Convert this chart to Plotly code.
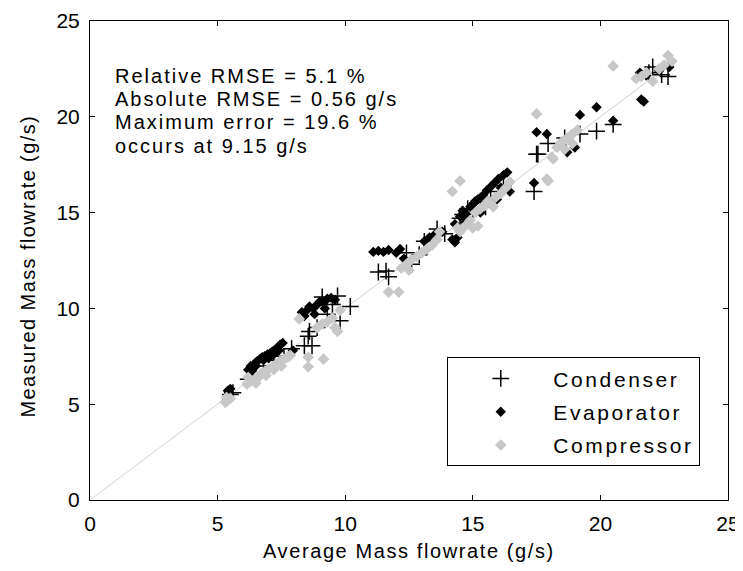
import plotly.graph_objects as go

# ---- data ----
cond_x = [5.5, 5.6, 6.2, 6.4, 6.8, 7.2, 7.6, 7.9, 8.4, 8.7, 8.55, 8.6, 8.9, 9.1, 9.7, 10.2, 9.8, 9.3, 9.5,
          11.3, 11.6, 11.7, 12.6, 12.4, 12.9, 13.1, 13.6, 13.9, 14.5, 14.6, 14.8, 15.0, 15.3, 15.5, 15.7, 16.2,
          17.4, 17.5, 17.55, 17.95, 18.6, 19.2, 19.85, 20.5, 21.9, 22.05, 22.4, 22.65]
cond_y = [5.5, 5.6, 6.3, 6.5, 7.0, 7.3, 7.5, 7.9, 8.05, 8.05, 8.55, 8.8, 9.0, 10.6, 10.65, 10.1, 9.35, 9.7, 10.2,
          11.9, 11.95, 11.65, 12.3, 12.9, 12.8, 13.5, 14.15, 13.9, 14.7, 14.9, 15.2, 15.0, 15.6, 15.3, 16.1, 16.4,
          16.1, 18.05, 18.05, 18.6, 18.9, 19.1, 19.25, 19.6, 22.3, 22.6, 22.2, 22.1]

evap_x = [5.4, 5.5, 5.45,
          6.2, 6.3, 6.35, 6.45, 6.5, 6.55, 6.65, 6.75, 6.8, 6.85, 6.95, 7.0, 7.05, 7.15, 7.2, 7.25, 7.35, 7.4,
          7.45, 7.55, 7.95,
          8.3, 8.4, 8.5, 8.6, 8.75, 8.8, 8.9, 9.0, 9.15, 9.2, 9.3, 9.45, 9.6,
          11.1, 11.3, 11.5, 11.7, 12.0, 12.15, 12.3, 13.1, 13.3, 13.5, 13.8, 14.2, 14.3, 14.4,
          14.3, 14.5, 14.6, 14.75, 14.9, 15.05, 15.2, 15.3, 15.4, 15.55, 15.7, 15.85, 15.95, 16.0, 16.2, 16.35, 16.45,
          14.7, 15.1, 15.6, 16.1,
          17.4, 17.5, 17.9, 18.5, 18.7, 19.0, 19.2, 19.85, 20.5,
          21.6, 21.7, 21.55, 21.8, 22.3, 22.7]
evap_y = [5.7, 5.8, 5.6,
          6.8, 7.0, 6.75, 7.1, 7.0, 7.25, 7.35, 7.45, 7.3, 7.5, 7.6, 7.4, 7.65, 7.75, 7.6, 7.85, 7.95, 7.8,
          8.1, 8.2, 7.8,
          9.8, 9.6, 9.9, 10.1, 10.0, 9.7, 10.2, 10.35, 10.3, 10.0, 10.5, 10.55, 10.45,
          12.95, 13.0, 12.95, 13.05, 12.9, 13.1, 12.6, 13.5, 13.7, 13.85, 14.0, 13.6, 13.45, 13.7,
          14.4, 14.8, 15.1, 14.9, 15.3, 15.5, 15.7, 15.0, 15.9, 16.15, 16.35, 16.55, 15.7, 16.75, 16.95, 17.1, 16.1,
          14.5, 15.6, 15.5, 16.3,
          16.55, 19.2, 19.1, 18.5, 18.15, 18.4, 20.1, 20.5, 19.8,
          20.9, 20.8, 22.3, 22.15, 22.4, 22.6]

comp_x = [5.3, 5.35, 5.4, 5.5,
          6.15, 6.2, 6.3, 6.45, 6.5, 6.6, 6.7, 6.85, 6.9, 7.0, 7.15, 7.2, 7.3, 7.45, 7.5, 7.6, 7.75, 7.85,
          8.2, 8.55, 8.55, 9.15, 9.7, 8.9, 9.1, 9.3, 9.5, 9.6, 9.8,
          11.7, 12.1, 12.2, 12.4, 12.5, 12.6, 12.8, 13.0, 13.2, 13.4, 13.6, 13.7,
          14.2, 14.5, 14.4, 14.5, 14.7, 14.9, 15.0, 15.2, 15.1, 15.3, 15.5, 15.6, 15.8, 15.9, 16.1, 16.3, 16.45,
          17.5, 17.9, 17.95, 18.15, 18.1, 18.3, 18.5, 18.6, 18.7, 18.9, 18.9, 19.1,
          20.5, 21.4, 21.6, 21.8, 22.05, 22.3, 22.5, 22.65, 22.8]
comp_y = [5.1, 5.35, 5.2, 5.3,
          6.05, 6.4, 6.2, 6.3, 6.1, 6.4, 6.6, 6.7, 6.5, 6.85, 6.95, 6.8, 7.1, 7.25, 7.0, 7.35, 7.45, 7.55,
          9.45, 7.45, 6.95, 7.35, 8.8, 9.0, 9.2, 9.3, 9.5, 9.0, 9.9,
          10.85, 10.85, 12.1, 12.3, 12.0, 12.55, 12.7, 12.9, 13.1, 13.3, 13.6, 14.0,
          16.1, 16.65, 14.2, 14.0, 14.3, 14.6, 14.2, 14.3, 15.0, 15.2, 15.4, 15.6, 15.3, 15.8, 16.0, 16.3, 16.6,
          20.15, 16.75, 16.65, 17.8, 17.9, 18.4, 18.7, 18.3, 18.9, 19.1, 18.6, 19.3,
          22.65, 22.0, 22.1, 22.3, 21.85, 22.5, 22.7, 23.2, 22.9]

ref_line = [0, 23]
x_ticks = [0, 5, 10, 15, 20, 25]
y_ticks = [0, 5, 10, 15, 20, 25]
stats_text = ["Relative RMSE = 5.1 %", "Absolute RMSE = 0.56 g/s",
              "Maximum error = 19.6 %", "occurs at 9.15 g/s"]
series_names = ["Condenser", "Evaporator", "Compressor"]
x_title = "Average Mass flowrate (g/s)"
y_title = "Measured Mass flowrate (g/s)"

FONT = "Liberation Sans, Arial, sans-serif"
TXT = 20


def spaced(s, px=2.0):
    # the reference font is wide with loose letter spacing
    return '<span style="letter-spacing:%.1fpx">%s</span>' % (px, s)


# the page body has an 8px margin, so the figure is sized and offset to compensate
fig = go.Figure()
fig.add_trace(go.Scatter(x=ref_line, y=ref_line, mode="lines",
                         line=dict(color="rgb(212,208,200)", width=1), showlegend=False, hoverinfo="skip"))
fig.add_trace(go.Scatter(x=cond_x, y=cond_y, mode="markers", name=spaced(series_names[0], 2.6), legendgroup="a",
                         marker=dict(symbol="cross-thin-open", size=12, color="black",
                                     line=dict(color="black", width=1.5))))
fig.add_trace(go.Scatter(x=evap_x, y=evap_y, mode="markers", name=spaced(series_names[1], 2.6), legendgroup="b",
                         marker=dict(symbol="diamond", size=8, color="black", line=dict(width=0))))
fig.add_trace(go.Scatter(x=comp_x, y=comp_y, mode="markers", name=spaced(series_names[2], 2.6), legendgroup="c",
                         marker=dict(symbol="diamond", size=9, color="rgb(200,200,200)", line=dict(width=0))))

for i, t in enumerate(stats_text):
    fig.add_annotation(x=0.9, y=22.15 - i * 1.22, xref="x", yref="y", text=spaced(t, 2.0), showarrow=False,
                       xanchor="left", yanchor="middle", font=dict(size=TXT, color="black", family=FONT))

fig.add_annotation(x=0.5, y=0, xref="paper", yref="paper", yshift=-38, text=spaced(x_title, 1.6), showarrow=False,
                   xanchor="center", yanchor="top", font=dict(size=TXT, color="black", family=FONT))
fig.add_annotation(x=0, y=0.5, xref="paper", yref="paper", xshift=-63, yshift=-6, text=spaced(y_title, 1.4),
                   showarrow=False, textangle=-90, xanchor="center", yanchor="middle",
                   font=dict(size=TXT, color="black", family=FONT))

axis_common = dict(showline=True, linecolor="black", linewidth=1, mirror="ticks", ticks="inside",
                   ticklen=5, tickcolor="black", showgrid=False, zeroline=False, automargin=False,
                   tickfont=dict(size=21, color="black", family=FONT), range=[0, 25])
fig.update_xaxes(**axis_common, tickvals=x_ticks, ticklabelstandoff=5)
fig.update_yaxes(**axis_common, tickvals=y_ticks, ticklabelstandoff=5)

fig.update_layout(
    width=735, height=560,
    margin=dict(l=82, r=15, t=13, b=68),
    plot_bgcolor="white", paper_bgcolor="white",
    font=dict(family=FONT, color="black"),
    legend=dict(x=0.56, y=0.298, xanchor="left", yanchor="top", bordercolor="black", borderwidth=1,
                bgcolor="white", font=dict(size=21, family=FONT, color="black"), tracegroupgap=3,
                itemwidth=95),
)

fig.write_html("out.html")
